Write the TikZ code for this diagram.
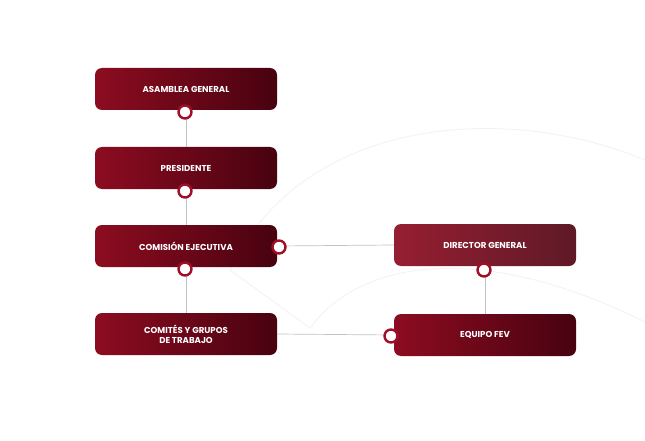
\documentclass[tikz,border=0pt]{standalone}
\usepackage{fontspec}
\setmainfont{Poppins}
\definecolor{rA}{RGB}{140,12,32}
\definecolor{rB}{RGB}{72,2,16}
\definecolor{rC}{RGB}{150,30,50}
\definecolor{rD}{RGB}{95,25,38}
\definecolor{ring}{RGB}{160,15,40}
\definecolor{ln}{RGB}{195,195,195}
\tikzset{
  box/.style={rounded corners=7pt, minimum width=182pt, minimum height=42pt, inner sep=0pt,
    left color=rA, right color=rB, text=white, font=\fontsize{8.6}{10}\selectfont\bfseries, align=center},
  boxlight/.style={box, left color=rC, right color=rD},
  dot/.style={circle, draw=ring, line width=2.4pt, fill=white, minimum size=13pt, inner sep=0pt},
  conn/.style={draw=ln, line width=0.7pt}
}
\begin{document}
\begin{tikzpicture}[x=1pt,y=-1pt]
\useasboundingbox[fill=white] (0,0) rectangle (645,441);
\draw[black!5, line width=0.8pt] (230,270) .. controls (300,120) and (500,100) .. (645,160);
\draw[black!5, line width=0.8pt] (310,328) .. controls (360,260) and (480,240) .. (645,322);
\draw[black!5, line width=0.8pt] (230,270) -- (310,328);
\node[box] (ag) at (186,89) {ASAMBLEA GENERAL};
\node[box] (pr) at (186,168) {PRESIDENTE};
\node[box] (ce) at (186,246) {COMISIÓN EJECUTIVA};
\node[boxlight] (dg) at (485,245) {DIRECTOR GENERAL};
\node[box] (cg) at (186,334) {COMITÉS Y GRUPOS\\DE TRABAJO};
\node[box] (ef) at (485,335) {EQUIPO FEV};
\draw[conn] (ag.south) -- (pr.north);
\draw[conn] (pr.south) -- (ce.north);
\draw[conn] (ce.south) -- (cg.north);
\draw[conn] (ce.east) -- (dg.west);
\draw[conn] (dg.south) -- (ef.north);
\draw[conn] (cg.east) -- (ef.west);
\node[dot] (d1) at (185,112) {};
\node[dot] (d2) at (185,191) {};
\node[dot] (d3) at (185,269) {};
\node[dot] (d4) at (279,247) {};
\node[dot] (d5) at (484,270) {};
\node[dot] (d6) at (391,336) {};
\end{tikzpicture}
\end{document}
